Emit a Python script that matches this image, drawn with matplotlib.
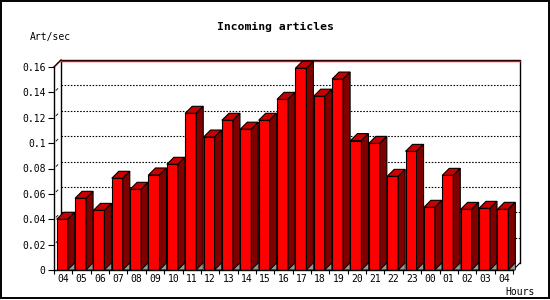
import numpy as np
import matplotlib.pyplot as plt
from matplotlib.patches import Polygon, Rectangle

hours = ["04", "05", "06", "07", "08", "09", "10", "11", "12", "13", "14", "15", "16",
         "17", "18", "19", "20", "21", "22", "23", "00", "01", "02", "03", "04"]
art_per_sec = [0.040, 0.0565, 0.047, 0.0723, 0.0636, 0.0749, 0.0833, 0.1235, 0.1048,
               0.118, 0.111, 0.118, 0.1345, 0.159, 0.137, 0.1505, 0.102, 0.0998,
               0.0738, 0.0935, 0.0494, 0.0746, 0.0478, 0.0486, 0.0478]
y_ticks = [0, 0.02, 0.04, 0.06, 0.08, 0.1, 0.12, 0.14, 0.16]
y_labels = ["0", "0.02", "0.04", "0.06", "0.08", "0.1", "0.12", "0.14", "0.16"]

W, H = 550, 300
fig = plt.figure(figsize=(W / 100, H / 100), dpi=100)
x0px, x1px, y0px, y1px = 54, 513, 270, 67
ax = fig.add_axes([x0px / W, (H - y0px) / H, (x1px - x0px) / W, (y0px - y1px) / H])
n = len(hours)
ymax = 0.16
ax.set_xlim(0, n)
ax.set_ylim(0, ymax)

# 3d offset, 7 px converted to data units
dx = 7 / ((x1px - x0px) / n)
dy = 7 * ymax / (y0px - y1px)
onepx = ymax / (y0px - y1px)

mono = "DejaVu Sans Mono"

# back plane
ax.plot([dx, dx, n + dx, n + dx], [dy, ymax + dy, ymax + dy, dy], color="black", lw=1, clip_on=False, zorder=1)
ax.plot([dx, n + dx], [ymax + dy - onepx, ymax + dy - onepx], color="red", lw=1, clip_on=False, zorder=1)
ax.plot([0, dx], [ymax, ymax + dy], color="red", lw=1.2, clip_on=False, zorder=1)
ax.plot([0, dx], [ymax, ymax + dy], color="black", lw=0.6, clip_on=False, zorder=1)
ax.plot([n, n + dx], [0, dy], color="black", lw=0.8, clip_on=False, zorder=1)
for v in y_ticks[1:-1]:
    ax.plot([dx, n + dx], [v + dy, v + dy], color="black", lw=0.8,
            dashes=(1.4, 1.4), clip_on=False, zorder=1)
    ax.plot([dx * 0.3, dx * 0.55], [v + dy * 0.3, v + dy * 0.55], color="black", lw=0.6,
            clip_on=False, zorder=1)

# bars: front, top, side, floor shadow
off = 0.147
bw = 0.6
for i, v in enumerate(art_per_sec):
    xa = i + off
    xb = xa + bw
    ax.bar(xa, v, width=bw, align="edge", color="#ff0000", edgecolor="black", lw=0.8, zorder=3)
    ax.add_patch(Polygon([(xa, v), (xa + dx, v + dy), (xb + dx, v + dy), (xb, v)], closed=True,
                         facecolor="#c80000", edgecolor="black", lw=0.8, zorder=3, clip_on=False))
    ax.add_patch(Polygon([(xb, 0), (xb + dx, dy), (xb + dx, v + dy), (xb, v)], closed=True,
                         facecolor="#800000", edgecolor="black", lw=0.8, zorder=3, clip_on=False))
    ax.add_patch(Polygon([(xb, 0), (xb + dx, dy), (xb + dx, 0)], closed=True,
                         facecolor="#999999", edgecolor="black", lw=0.6, zorder=3, clip_on=False))

for s in ["top", "right"]:
    ax.spines[s].set_visible(False)
ax.spines["left"].set_linewidth(1)
ax.spines["bottom"].set_linewidth(1)
ax.spines["left"].set_zorder(4)
ax.spines["bottom"].set_zorder(4)
ax.patch.set_alpha(0)

ax.set_yticks(y_ticks)
ax.set_yticklabels(y_labels, fontfamily=mono, fontsize=7)
ax.tick_params(axis="y", length=4, width=0.8, pad=2)
ax.set_xticks(np.arange(n + 1))
ax.set_xticklabels([])
ax.set_xticks(np.arange(n) + 0.5, minor=True)
ax.set_xticklabels(hours, minor=True, fontfamily=mono, fontsize=7)
ax.tick_params(axis="x", which="major", length=3, width=0.8)
ax.tick_params(axis="x", which="minor", length=0, pad=3)

fig.text(275 / W, 1 - 27 / H, "Incoming articles", ha="center", va="center",
         fontfamily=mono, fontweight="bold", fontsize=8.2)
fig.text(30 / W, 1 - 37 / H, "Art/sec", ha="left", va="center", fontfamily=mono, fontsize=7)
fig.text(505 / W, 1 - 292 / H, "Hours", ha="left", va="center", fontfamily=mono, fontsize=7)

fig.patches.append(Rectangle((0.5 / W, 2 / H), 548 / W, 297 / H, transform=fig.transFigure,
                             fill=False, edgecolor="black", lw=1.4))

fig.savefig("out.png", dpi=100)
